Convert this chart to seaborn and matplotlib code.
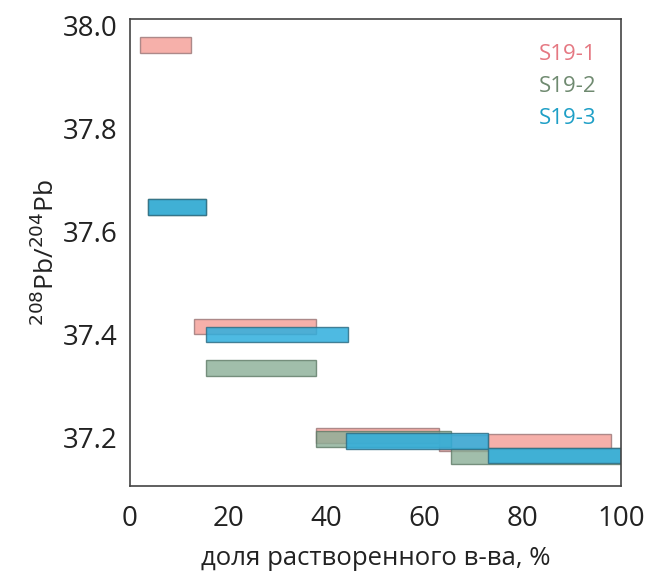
import matplotlib
matplotlib.use("Agg")
import matplotlib.pyplot as plt
import seaborn as sns
import pandas as pd

# step data: fraction of dissolved matter (%) -> 208Pb/204Pb
s1_start = [2.0, 13.0, 38.0, 63.0, 73.0]
s1_end = [12.5, 38.0, 63.0, 73.0, 98.0]
s1_val = [37.962, 37.416, 37.205, 37.19, 37.193]

s2_start = [3.7, 15.5, 38.0, 65.5]
s2_end = [15.5, 38.0, 65.5, 100.0]
s2_val = [37.648, 37.335, 37.198, 37.165]

s3_start = [3.7, 15.5, 44.0, 73.0]
s3_end = [15.5, 44.5, 73.0, 100.0]
s3_val = [37.648, 37.40, 37.194, 37.166]

err = 0.015

samples = ["S19-1", "S19-2", "S19-3"]
fills = ["#F49C95", "#8AAE96", "#2FAEDD"]
edges = ["#9A7676", "#5E7A66", "#2F6F86"]
alphas = [0.8, 0.8, 0.85]
text_colors = ["#E57882", "#6F8A70", "#1E9FC6"]

rows = []
for name, st, en, va in zip(samples, [s1_start, s2_start, s3_start],
                            [s1_end, s2_end, s3_end], [s1_val, s2_val, s3_val]):
    for a, b, v in zip(st, en, va):
        rows.append({"sample": name, "start": a, "end": b, "val": v})
df = pd.DataFrame(rows)

sns.set_style("white")
plt.rcParams['font.family'] = ['Open Sans', 'DejaVu Sans']

fig = plt.figure(figsize=(6.46, 5.77), dpi=100)
ax = fig.add_axes([0.201, 0.158, 0.76, 0.809])

for name, fc, ec, al in zip(samples, fills, edges, alphas):
    d = df[df["sample"] == name]
    ax.barh(d["val"], d["end"] - d["start"], left=d["start"], height=2 * err,
            color=fc, alpha=al, edgecolor=ec, linewidth=1.0)

ax.set_xlim(0, 100)
ax.set_ylim(37.107, 38.012)
ax.set_xticks([0, 20, 40, 60, 80, 100])
ax.set_yticks([37.2, 37.4, 37.6, 37.8, 38.0])
ax.set_yticklabels(["37.2", "37.4", "37.6", "37.8", "38.0"])
ax.tick_params(axis="both", length=0, labelsize=20, labelcolor="#222222")
ax.tick_params(axis="x", pad=14)
ax.tick_params(axis="y", pad=9)

for sp in ax.spines.values():
    sp.set_color("#444444")
    sp.set_linewidth(1.2)

ax.set_xlabel("доля растворенного в-ва, %", fontsize=18.5, color="#222222", labelpad=9)
ax.set_ylabel("$^{208}$Pb/$^{204}$Pb", fontsize=19, color="#222222", labelpad=2)

for i, (name, tc) in enumerate(zip(samples, text_colors)):
    ax.text(0.95, 0.923 - i * 0.068, name, transform=ax.transAxes,
            ha="right", va="center", fontsize=16, color=tc)

fig.savefig("out.png", dpi=100)
